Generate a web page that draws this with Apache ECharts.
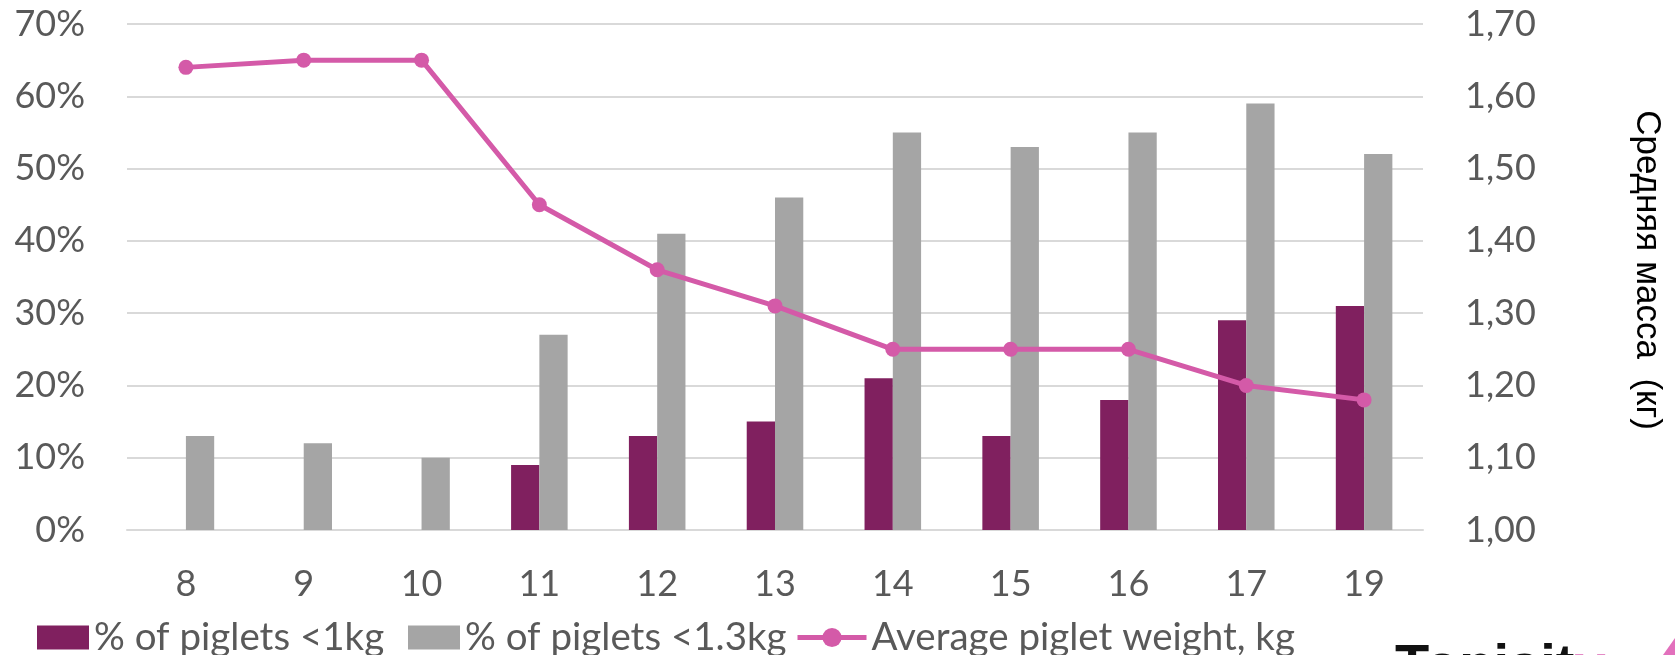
<!DOCTYPE html>
<html>
<head>
<meta charset="utf-8">
<script src="https://cdn.jsdelivr.net/npm/echarts@6/dist/echarts.min.js"></script>
<style>
html,body{margin:0;padding:0;background:#fff;}
#c{width:1675px;height:655px;}
</style>
</head>
<body>
<div id="c"></div>
<script>
const categories = ['8','9','10','11','12','13','14','15','16','17','19'];
const under1kg = [0, 0, 0, 9, 13, 15, 21, 13, 18, 29, 31];
const under13kg = [13, 12, 10, 27, 41, 46, 55, 53, 55, 59, 52];
const avgWeight = [1.64, 1.65, 1.65, 1.45, 1.36, 1.31, 1.25, 1.25, 1.25, 1.20, 1.18];
const leftTicks = {min: 0, max: 70, interval: 10};
const rightTicks = {min: 1.0, max: 1.7, interval: 0.1};
const seriesNames = ['% of piglets <1kg', '% of piglets <1.3kg', 'Average piglet weight, kg'];
const rightAxisName = 'Средняя масса  (кг)';

const FONT = 'Lato';
const TXT = '#595959';
const chart = echarts.init(document.getElementById('c'));
const legendText = {fontFamily: FONT, fontSize: 38.5, color: TXT};
chart.setOption({
  animation: false,
  backgroundColor: '#fff',
  grid: {left: 127, right: 252, top: 24, bottom: 125, containLabel: false, outerBoundsMode: 'none'},
  legend: [
    {data: [seriesNames[0]], left: 37, top: 618, itemWidth: 52, itemHeight: 24, icon: 'rect', textStyle: legendText, padding: 0},
    {data: [seriesNames[1]], left: 408, top: 618, itemWidth: 52, itemHeight: 24, icon: 'rect', textStyle: legendText, padding: 0},
    {data: [seriesNames[2]], left: 795, top: 618, itemWidth: 69, itemHeight: 24, textStyle: legendText, padding: 0,
      lineStyle: {width: 5}}
  ],
  xAxis: {
    type: 'category',
    data: categories,
    axisLine: {show: true, lineStyle: {color: '#D9D9D9', width: 2}},
    axisTick: {show: false},
    axisLabel: {fontFamily: FONT, fontSize: 36, color: TXT, margin: 36}
  },
  yAxis: [
    {
      type: 'value', min: leftTicks.min, max: leftTicks.max, interval: leftTicks.interval,
      axisLine: {show: false}, axisTick: {show: false},
      splitLine: {lineStyle: {color: '#D9D9D9', width: 2}},
      axisLabel: {fontFamily: FONT, fontSize: 36, color: TXT, margin: 42, formatter: '{value}%'}
    },
    {
      type: 'value', min: rightTicks.min, max: rightTicks.max, interval: rightTicks.interval,
      position: 'right',
      axisLine: {show: false}, axisTick: {show: false}, splitLine: {show: false},
      axisLabel: {fontFamily: FONT, fontSize: 36, color: TXT, margin: 42,
        formatter: v => v.toFixed(2).replace('.', ',')},
      name: rightAxisName,
      nameLocation: 'middle',
      nameRotate: -90,
      nameGap: 206,
      nameTextStyle: {fontFamily: 'Liberation Sans', fontSize: 35, color: '#000', padding: [0, 14, 0, 0]}
    }
  ],
  series: [
    {
      name: seriesNames[0], type: 'bar', data: under1kg, yAxisIndex: 0,
      itemStyle: {color: '#80205F'}, barGap: '0%', barCategoryGap: '52%'
    },
    {
      name: seriesNames[1], type: 'bar', data: under13kg, yAxisIndex: 0,
      itemStyle: {color: '#A5A5A5'}, barGap: '0%', barCategoryGap: '52%'
    },
    {
      name: seriesNames[2], type: 'line', data: avgWeight, yAxisIndex: 1,
      symbol: 'circle', symbolSize: 15,
      lineStyle: {color: '#D45AA8', width: 5},
      itemStyle: {color: '#D45AA8'}
    }
  ],
  graphic: [
    {
      type: 'text', left: 1395, top: 640,
      style: {
        text: '{a|Tonisit}{b|y}',
        rich: {
          a: {fontFamily: 'Liberation Sans', fontWeight: 'bold', fontSize: 56, fill: '#111'},
          b: {fontFamily: 'Liberation Sans', fontWeight: 'bold', fontSize: 56, fill: '#E48AC6'}
        }
      }
    },
    {
      type: 'polygon',
      shape: {points: [[1663, 655], [1675, 638], [1675, 655]]},
      style: {fill: '#E270BC'}
    }
  ]
});
</script>
</body>
</html>
